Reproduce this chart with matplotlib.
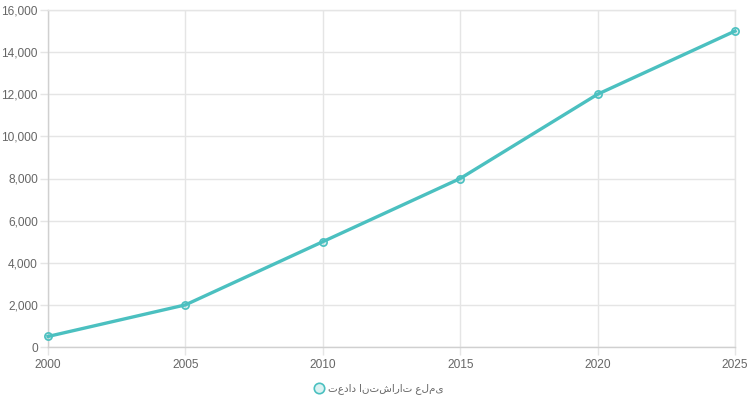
import matplotlib
matplotlib.use("Agg")
import matplotlib.pyplot as plt
from matplotlib.ticker import FuncFormatter

years = [2000, 2005, 2010, 2015, 2020, 2025]
values = [500, 2000, 5000, 8000, 12000, 15000]
series_label = "تعداد انتشارات علمی"
y_ticks = [0, 2000, 4000, 6000, 8000, 10000, 12000, 14000, 16000]

plt.rcParams['font.family'] = ['Liberation Sans', 'DejaVu Sans']

line_color = '#4bc0c0'
fill_color = (75/255, 192/255, 192/255, 0.2)
grid_color = '#e5e5e5'
text_color = '#666666'

fig = plt.figure(figsize=(7.5, 4.07), dpi=100)
ax = fig.add_axes([48/750, 1-347/407, (735-48)/750, (347-10)/407])

ax.plot(years, values, color=line_color, lw=2.4, marker='o', ms=5.2,
        mfc=fill_color, mec=line_color, mew=1.2, zorder=3, label=series_label,
        solid_joinstyle='round', clip_on=False)

ax.set_xlim(2000, 2025)
ax.set_ylim(0, 16000)
ax.set_xticks(years)
ax.set_yticks(y_ticks)
ax.yaxis.set_major_formatter(FuncFormatter(lambda v, p: f"{int(v):,}"))
ax.grid(True, color=grid_color, lw=1)
ax.set_axisbelow(True)
for s in ax.spines.values():
    s.set_color(grid_color)
    s.set_linewidth(1)
ax.spines['bottom'].set_color('#d0d0d0')
ax.spines['left'].set_color('#d0d0d0')
ax.tick_params(axis='both', colors=grid_color, length=5.8, width=1,
               labelcolor=text_color, labelsize=8.6, pad=1.5)
ax.tick_params(axis='x', pad=2.5)

leg = fig.legend(loc='center', bbox_to_anchor=(379/750, 1-389/407), frameon=False,
                 fontsize=7.5, labelcolor=text_color, handlelength=0.8,
                 handletextpad=0.5)
for h in leg.legend_handles:
    h.set_linestyle('None')
    h.set_markersize(7.5)

fig.savefig('out.png', dpi=100)
